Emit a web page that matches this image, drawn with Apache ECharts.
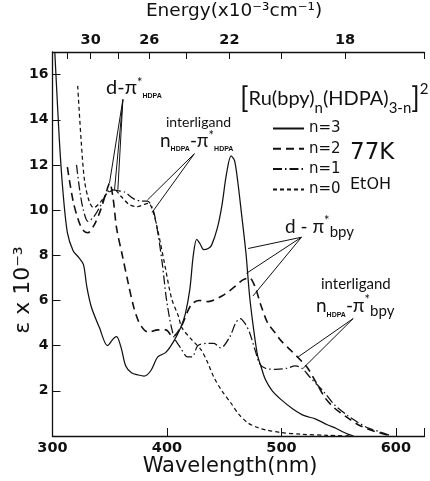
<!DOCTYPE html>
<html><head><meta charset="utf-8">
<script src="https://cdn.jsdelivr.net/npm/echarts@6/dist/echarts.min.js"></script>
<style>html,body{margin:0;padding:0;background:#fff}#c{width:430px;height:481px}</style>
</head><body><div id="c"></div>
<script>
// Absorption spectra of [Ru(bpy)n(HDPA)3-n]2+ at 77 K: [wavelength nm, epsilon x 10^-3]
const wavelengthTicks = [300, 400, 500, 600];
const epsilonTicks = [2, 4, 6, 8, 10, 12, 14, 16];
const energyTicks = [32, 30, 28, 26, 24, 22, 20, 18, 16];   // x10^3 cm^-1
const energyLabels = [30, 26, 22, 18];

const n3 = [[302,17.0],[303,16.0],[306,13.1],[309,10.9],[313,9.0],[318,8.2],[323,7.9],[327,7.6],[330,6.6],[334,5.7],
  [341,4.8],[348,4.0],[353,4.3],[356,4.4],[360,3.9],[364,3.1],[369,2.8],[375,2.7],[380,2.65],[386,2.9],[392,3.5],
  [399,3.7],[406,4.2],[412,4.8],[416,5.4],[420,6.5],[423,8.0],[426,8.7],[429,8.5],[432,8.25],[436,8.3],[439,8.45],
  [444,9.2],[448,10.2],[452,11.6],[456,12.4],[459,12.2],[462,11.2],[465,9.9],[469,8.1],[472,6.3],[475,5.0],[479,3.6],
  [482,3.1],[486,2.5],[492,2.0],[500,1.6],[510,1.2],[520,0.9],[530,0.75],[540,0.5],[548,0.33],[553,0.2],[558,0.08],[563,0]];
const n2 = [[313,11.9],[318,10.4],[323,9.5],[327,9.1],[331,9.0],[336,9.3],[342,10.0],[347,10.8],[350,11.2],[353,10.5],
  [356,9.2],[361,8.0],[366,6.8],[371,5.7],[375,5.1],[380,4.7],[384,4.6],[392,4.7],[399,4.7],[405,4.4],[412,4.8],
  [421,5.8],[428,6.0],[436,5.95],[448,6.2],[459,6.6],[466,6.9],[472,7.0],[477,6.6],[482,5.8],[488,5.0],[494,4.6],
  [500,4.2],[508,3.8],[515,3.45],[523,3.0],[530,2.4],[538,1.7],[546,1.25],[558,0.8],[567,0.5],[576,0.3],[585,0.15],[596,0]];
const n1 = [[321,12.0],[324,10.8],[327,10.0],[331,9.5],[336,9.7],[342,10.2],[348,10.8],[353,10.9],[358,10.85],[363,10.8],
  [371,10.5],[378,10.4],[383,10.4],[388,10.0],[392,9.0],[396,7.6],[400,5.9],[406,4.4],[412,3.9],[418,3.5],[422,3.5],
  [427,4.0],[435,4.1],[441,4.1],[447,3.9],[455,4.4],[460,5.0],[464,5.2],[468,5.0],[472,4.6],[477,3.8],[481,3.2],
  [486,3.0],[495,2.95],[505,3.0],[512,3.1],[518,3.0],[525,2.6],[538,1.9],[546,1.4],[558,0.9],[567,0.6],[576,0.35],[585,0.2],[596,0]];
const n0 = [[322,15.5],[325,13.1],[328,11.3],[332,10.4],[336,10.1],[341,10.3],[347,10.7],[354,10.9],[360,10.6],[367,10.25],
  [374,10.15],[380,10.25],[384,10.3],[388,9.9],[392,9.1],[398,7.6],[404,6.1],[410,5.3],[413,4.8],[421,4.3],[430,3.8],
  [436,3.2],[441,2.6],[448,2.0],[456,1.45],[463,0.95],[471,0.57],[479,0.38],[487,0.26],[500,0.15],[517,0.08],[540,0.03],[560,0]];

// Leader lines for band assignments: [from, to] in (nm, epsilon)
const leaderHDPA = [[[361.5,14.9],[349.8,11.2]],[[361.5,14.9],[354.2,10.9]],[[361.5,14.9],[357.1,10.9]]];
const leaderInterHDPA = [[[424,12.5],[383,10.45]],[[424,12.5],[387,9.9]]];
const leaderBpy = [[[517.5,8.8],[470.9,8.3]],[[517.5,8.8],[469.4,7.2]],[[517.5,8.8],[475.2,6.2]]];
const leaderInterBpy = [[[562.7,5.2],[514.6,3.5]],[[562.7,5.2],[519,3.0]]];

const BLACK = '#111';
const tickFont = {fontFamily:'DejaVu Sans', fontWeight:'bold', fontSize:14.5, color:BLACK};
const thinFont = 'Lato';
const wideFont = 'DejaVu Sans';

function seriesOf(name, data, type){
  return {name, type:'line', data, showSymbol:false, symbol:'none', smooth:0.3,
    itemStyle:{color:BLACK},
    lineStyle:{color:BLACK, width: name==='n=2'?1.6:1.25, type}, silent:true, z:3};
}
function leaders(list){
  return list.map(p => [{coord:p[0]},{coord:p[1]}]);
}
const subRich = (big, lh) => ({
  m:{fontFamily:thinFont, fontSize:big, lineHeight:lh, verticalAlign:'middle', fill:BLACK},
  sup:{fontFamily:thinFont, fontSize:13, lineHeight:lh, verticalAlign:'top', fill:BLACK},
  sub:{fontFamily:'Liberation Sans', fontWeight:'bold', fontSize:7, lineHeight:lh, verticalAlign:'bottom', fill:BLACK},
  sub2:{fontFamily:thinFont, fontSize:15, lineHeight:lh, verticalAlign:'bottom', fill:BLACK}
});

const chart = echarts.init(document.getElementById('c'), null, {renderer:'canvas'});
chart.setOption({
  backgroundColor:'#fff',
  animation:false,
  grid:{left:52.5, right:5.5, top:52, bottom:45},
  xAxis:[{
    type:'value', min:300, max:625, interval:100, position:'bottom',
    axisLine:{lineStyle:{color:BLACK, width:1.3}},
    axisTick:{inside:true, length:8, lineStyle:{color:BLACK}},
    splitLine:{show:false},
    axisLabel:{...tickFont, margin:5, customValues:wavelengthTicks}
  },{
    type:'value', min:300, max:625, position:'top',
    axisLine:{lineStyle:{color:BLACK, width:1.3}},
    axisTick:{inside:true, length:7, lineStyle:{color:BLACK}, customValues:energyTicks.map(e=>1e4/e)},
    splitLine:{show:false},
    axisLabel:{...tickFont, margin:4, customValues:energyLabels.map(e=>1e4/e),
      formatter:v=>String(Math.round(1e4/v))}
  }],
  yAxis:{
    type:'value', min:0, max:17, interval:2,
    axisLine:{lineStyle:{color:BLACK, width:1.3}},
    axisTick:{inside:true, length:8, lineStyle:{color:BLACK}, customValues:epsilonTicks},
    splitLine:{show:false},
    axisLabel:{...tickFont, fontSize:14, margin:4, customValues:epsilonTicks}
  },
  legend:{
    orient:'vertical', left:267, top:116, itemWidth:31, itemHeight:14, itemGap:5.3,
    data:['n=3','n=2','n=1','n=0'], selectedMode:false,
    itemStyle:{opacity:0},
    textStyle:{fontFamily:wideFont, fontSize:15, color:BLACK}
  },
  series:[
    seriesOf('n=3', n3, 'solid'),
    seriesOf('n=2', n2, [8,5]),
    seriesOf('n=1', n1, [9,3,1.5,3]),
    seriesOf('n=0', n0, [4,3]),
    {name:'leaders', type:'line', data:[], silent:true,
      markLine:{symbol:'none', silent:true, animation:false, label:{show:false},
        lineStyle:{color:BLACK, width:1, type:'solid'},
        data:[...leaders(leaderHDPA), ...leaders(leaderInterHDPA), ...leaders(leaderBpy), ...leaders(leaderInterBpy)]}}
  ],
  graphic:[
    {type:'text', x:234, y:11, style:{text:'Energy(x10\u207B\u00B3cm\u207B\u00B9)', fontFamily:wideFont, fontSize:18.5,
      fill:BLACK, align:'center', verticalAlign:'middle'}},
    {type:'text', x:230, y:467, style:{text:'Wavelength(nm)', fontFamily:wideFont, fontSize:21,
      fill:BLACK, align:'center', verticalAlign:'middle'}},
    {type:'text', x:23, y:290, rotation:Math.PI/2, style:{text:'\u03B5 x 10\u207B\u00B3', fontFamily:wideFont, fontSize:22,
      fill:BLACK, align:'center', verticalAlign:'middle'}},
    {type:'text', left:240, top:82, style:{
      text:'{br|[}{t|Ru(bpy)}{s|n}{t|(HDPA)}{s|3-n}{br|]}{p|2}', fill:BLACK,
      rich:{
        br:{fontFamily:thinFont, fontSize:28, lineHeight:34, verticalAlign:'middle', fill:BLACK},
        t:{fontFamily:thinFont, fontSize:20, lineHeight:34, verticalAlign:'middle', fill:BLACK},
        s:{fontFamily:thinFont, fontSize:15, lineHeight:34, verticalAlign:'bottom', fill:BLACK},
        p:{fontFamily:thinFont, fontSize:15, lineHeight:34, verticalAlign:'top', fill:BLACK}
      }}},
    {type:'text', left:350, top:142, style:{text:'77K', fontFamily:wideFont, fontSize:23, fill:BLACK}},
    {type:'text', left:350, top:177, style:{text:'EtOH', fontFamily:wideFont, fontSize:16, fill:BLACK}},
    {type:'text', left:106, top:76, style:{text:'{m|d-\u03C0}{sup|*}{sub|HDPA}', fill:BLACK, rich:subRich(20, 24)}},
    {type:'text', left:166, top:115, style:{text:'interligand', fontFamily:thinFont, fontSize:14, fill:BLACK}},
    {type:'text', left:160, top:129, style:{text:'{m|n}{sub|HDPA}{m|-\u03C0}{sup|*}{sub|HDPA}', fill:BLACK, rich:subRich(19, 24)}},
    {type:'text', left:285, top:214, style:{text:'{m|d - \u03C0}{sup|*}{sub2|bpy}', fill:BLACK, rich:subRich(19, 26)}},
    {type:'text', left:321, top:277, style:{text:'interligand', fontFamily:thinFont, fontSize:15, fill:BLACK}},
    {type:'text', left:316, top:293, style:{text:'{m|n}{sub|HDPA}{m|-\u03C0}{sup|*}{sub2|bpy}', fill:BLACK, rich:subRich(19, 26)}}
  ]
});
</script></body></html>
